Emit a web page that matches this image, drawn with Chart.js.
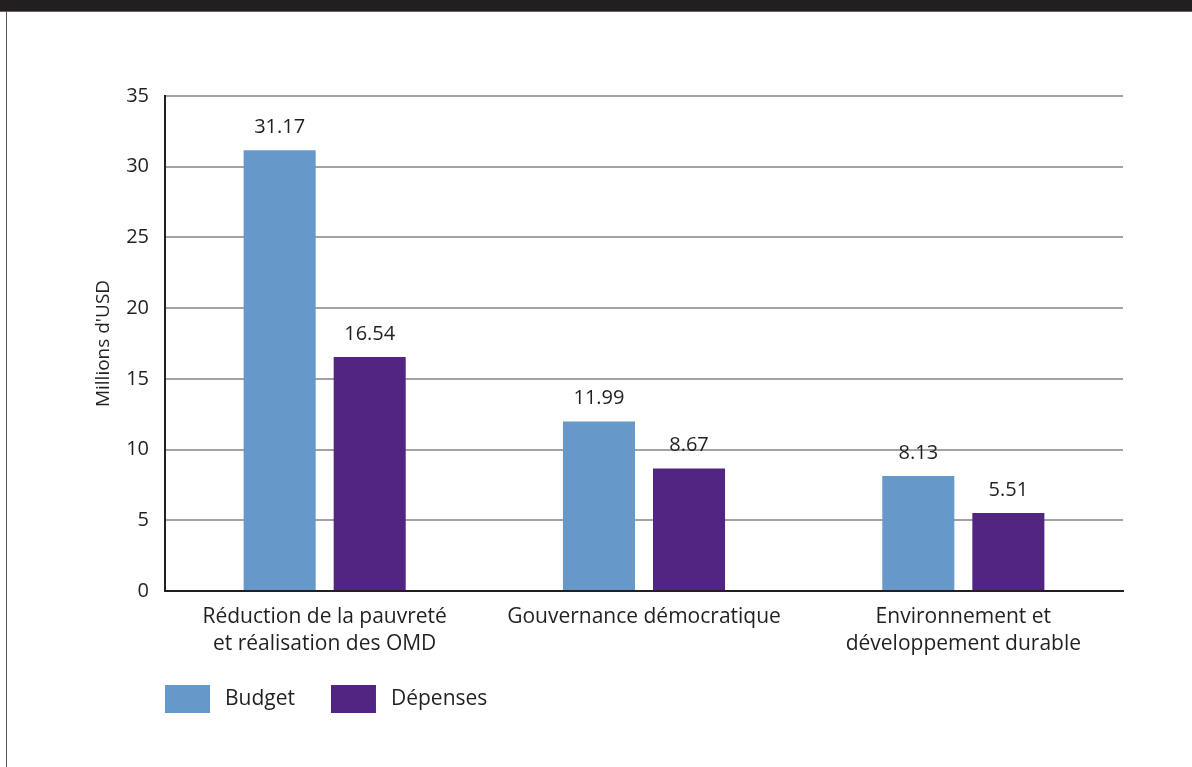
<!DOCTYPE html>
<html lang="fr">
<head>
  <meta charset="UTF-8" />
  <title>Budget et dépenses</title>
  <script src="https://cdn.jsdelivr.net/npm/chart.js"></script>
  <style>
    body {
      margin: 0;
      padding: 0;
      background: #fff;
      width: 1192px;
      height: 767px;
      overflow: hidden;
      position: relative;
      font-family: 'Open Sans', sans-serif;
    }
    .band {
      position: absolute;
      left: 0; top: 0;
      width: 1192px; height: 11px;
      background: #231f20;
      border-bottom: 1px solid #666;
      z-index: 2;
    }
    .edge {
      position: absolute;
      left: 6px; top: 11px;
      width: 1px; height: 756px;
      background: #555;
      z-index: 2;
    }
    .wrap {
      position: absolute;
      left: 0; top: 0;
      width: 1192px; height: 767px;
    }
  </style>
</head>
<body>
  <div class="band"></div>
  <div class="edge"></div>
  <div class="wrap"><canvas id="chart"></canvas></div>

  <script>
    // Données
    const categories = [
      ["Réduction de la pauvreté", "et réalisation des OMD"],
      "Gouvernance démocratique",
      ["Environnement et", "développement durable"]
    ];
    const budget = [31.17, 11.99, 8.13];
    const depenses = [16.54, 8.67, 5.51];
    const yTicks = [0, 5, 10, 15, 20, 25, 30, 35];

    const ink = "#231f20";
    const font = { family: "'Open Sans', sans-serif", size: 20 };
    const catFont = { family: "'Open Sans', sans-serif", size: 21, lineHeight: 1.27 };

    // Étiquettes de valeur au-dessus des barres
    const valueLabels = {
      id: "valueLabels",
      afterDatasetsDraw(chart) {
        const ctx = chart.ctx;
        ctx.save();
        ctx.font = "20px 'Open Sans', sans-serif";
        ctx.fillStyle = ink;
        ctx.textAlign = "center";
        ctx.textBaseline = "middle";
        chart.data.datasets.forEach((ds, i) => {
          chart.getDatasetMeta(i).data.forEach((bar, j) => {
            ctx.fillText(ds.data[j].toFixed(2), bar.x, bar.y - 23);
          });
        });
        ctx.restore();
      }
    };

    // Légende en bas à gauche
    const boxLegend = {
      id: "boxLegend",
      afterDraw(chart) {
        const ctx = chart.ctx;
        const area = chart.chartArea;
        ctx.save();
        ctx.font = "21px 'Open Sans', sans-serif";
        ctx.textBaseline = "middle";
        let x = area.left;
        const y = area.bottom + 94;
        chart.data.datasets.forEach(ds => {
          ctx.fillStyle = ds.backgroundColor;
          ctx.fillRect(x, y, 45, 28);
          ctx.fillStyle = ink;
          ctx.fillText(ds.label, x + 60, y + 14);
          x += 60 + ctx.measureText(ds.label).width + 36;
        });
        ctx.restore();
      }
    };

    new Chart(document.getElementById("chart"), {
      type: "bar",
      data: {
        labels: categories,
        datasets: [
          { label: "Budget", data: budget, backgroundColor: "#6699c9" },
          { label: "Dépenses", data: depenses, backgroundColor: "#522583" }
        ]
      },
      options: {
        responsive: true,
        maintainAspectRatio: false,
        animation: false,
        datasets: {
          bar: { categoryPercentage: 0.564, barPercentage: 0.8 }
        },
        layout: { padding: { left: 90, right: 69, top: 96, bottom: 0 } },
        plugins: {
          legend: { display: false },
          tooltip: { enabled: false }
        },
        scales: {
          x: {
            grid: { display: false, drawTicks: false },
            border: { display: true, color: ink, width: 2 },
            ticks: { color: ink, font: catFont, padding: 13, maxRotation: 0 },
            afterFit(scale) { scale.height = 176; }
          },
          y: {
            min: 0,
            max: 35,
            afterBuildTicks(scale) { scale.ticks = yTicks.map(v => ({ value: v })); },
            grid: {
              drawTicks: false,
              lineWidth: 2,
              color: c => (c.tick && c.tick.value === 0) ? ink : "#a3a3a3"
            },
            border: { display: true, color: ink, width: 2 },
            ticks: { color: ink, font: font, padding: 16 },
            title: {
              display: true,
              text: "Millions d'USD",
              color: ink,
              font: { family: "'Open Sans', sans-serif", size: 19 },
              padding: { top: 2, bottom: 0 }
            },
            afterFit(scale) { scale.width = 75; }
          }
        }
      },
      plugins: [valueLabels, boxLegend]
    });
  </script>
</body>
</html>
